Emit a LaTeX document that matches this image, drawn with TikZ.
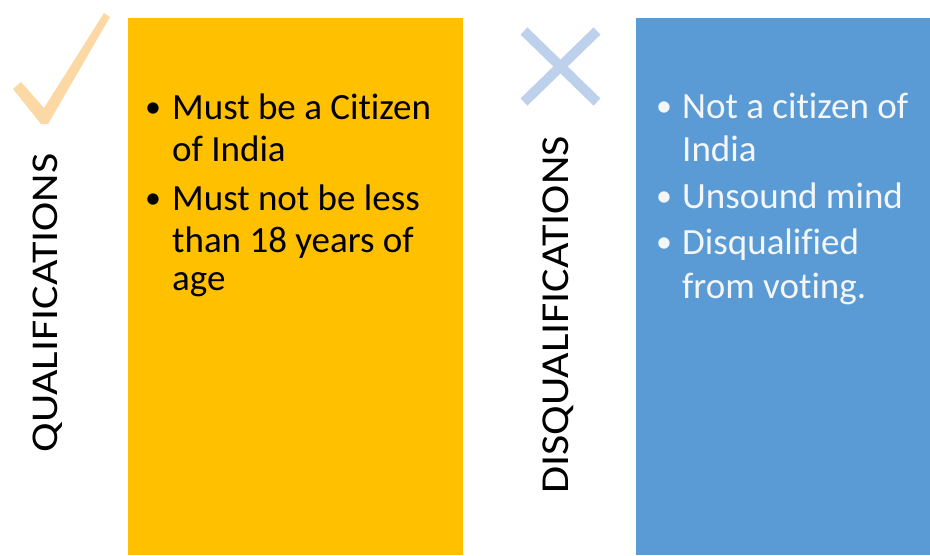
\documentclass[tikz,border=0pt]{standalone}
\usepackage{fontspec}
\setmainfont{Carlito}[Ligatures=NoCommon]
\definecolor{qorange}{HTML}{FFC000}
\definecolor{qblue}{HTML}{5B9BD5}
\definecolor{checkc}{HTML}{FCD8A4}
\definecolor{crossc}{HTML}{BDD1EC}
\definecolor{wtext}{HTML}{F4F6F8}
\begin{document}
\begin{tikzpicture}[x=1pt,y=-1pt,
  panel/.style={fill=#1, draw=none, anchor=north west, inner sep=0pt, minimum height=537pt},
  txt/.style={anchor=base west, inner sep=0pt, font=\fontsize{37}{44}\selectfont},
  bul/.style={anchor=base, inner sep=0pt, font=\fontsize{32}{38}\selectfont, yshift=1.5pt},
  vlabel/.style={anchor=base, rotate=90, inner sep=0pt, font=\fontsize{44}{50}\selectfont}]
\useasboundingbox (0,0) rectangle (930,555);
% panels
\node[panel=qorange, minimum width=335pt] (qbox) at (128,18) {};
\node[panel=qblue, minimum width=295pt] (dbox) at (636,18) {};
% check mark
\fill[checkc] (13,89) -- (21,82) -- (44,108) -- (104,13) -- (110,17) -- (48,124) -- (41,124) -- cycle;
% cross
\draw[crossc, line width=10pt] (524,31) -- (597,102);
\draw[crossc, line width=10pt] (597,31) -- (524,102);
% vertical labels
\node[vlabel] (qlabel) at (57,303) {\scalebox{1}[0.86]{QUALIFICATIONS}};
\node[vlabel] (dlabel) at (568,315) {\scalebox{1}[0.9]{DISQUALIFICATIONS}};
% qualifications list
\node[bul] (qb1) at (153,119) {•};
\node[txt] (q1a) at (172,119) {Must be a Citizen};
\node[txt] (q1b) at (172,161) {of India};
\node[bul] (qb2) at (153,210) {•};
\node[txt] (q2a) at (172,210) {Must not be less};
\node[txt] (q2b) at (172,252) {than 18 years of};
\node[txt] (q2c) at (172,290) {age};
% disqualifications list
\begin{scope}[every node/.append style={text=wtext}]
\node[bul] (db1) at (664,118) {•};
\node[txt] (d1a) at (682,118) {Not a citizen of};
\node[txt] (d1b) at (682,161) {India};
\node[bul] (db2) at (664,208) {•};
\node[txt] (d2a) at (682,208) {Unsound mind};
\node[bul] (db3) at (664,254) {•};
\node[txt] (d3a) at (682,254) {Disqualified};
\node[txt] (d3b) at (682,298) {from voting.};
\end{scope}
\end{tikzpicture}
\end{document}
